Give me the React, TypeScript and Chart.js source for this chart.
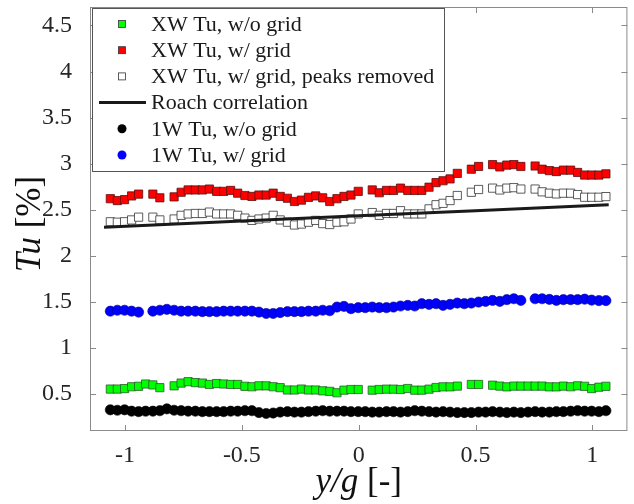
import React, { useEffect, useRef } from "react";
import { Chart, registerables } from "chart.js";

Chart.register(...registerables);

const xPositions = [
  -1.063, -1.033, -1.002, -0.972, -0.942, -0.912, -0.881, -0.851, -0.821, -0.79,
  -0.76, -0.73, -0.699, -0.669, -0.639, -0.608, -0.578, -0.548, -0.518, -0.487,
  -0.457, -0.427, -0.396, -0.366, -0.336, -0.305, -0.275, -0.245, -0.215, -0.184,
  -0.154, -0.124, -0.093, -0.063, -0.033, -0.002, 0.028, 0.058, 0.088, 0.119,
  0.149, 0.179, 0.21, 0.24, 0.27, 0.301, 0.331, 0.361, 0.391, 0.422,
  0.452, 0.482, 0.513, 0.543, 0.573, 0.604, 0.634, 0.664, 0.694, 0.725,
  0.755, 0.785, 0.816, 0.846, 0.876, 0.907, 0.937, 0.967, 0.997, 1.028, 1.058,
];

const xwNoGrid = [
  0.555, 0.555, 0.56, 0.58, 0.585, 0.61, 0.6, 0.57, null, 0.59,
  0.62, 0.635, 0.625, 0.62, 0.605, 0.615, 0.61, 0.605, 0.605, 0.585,
  0.58, 0.59, 0.59, 0.58, 0.57, 0.545, 0.545, 0.555, 0.545, 0.545,
  0.536, 0.53, 0.515, 0.543, 0.55, 0.55, null, 0.543, 0.55, 0.554,
  0.554, 0.55, 0.561, 0.543, 0.543, 0.554, 0.572, 0.579, 0.579, 0.587,
  null, 0.605, 0.605, null, 0.597, 0.587, 0.579, 0.587, 0.587, 0.587,
  0.587, 0.587, 0.579, 0.579, 0.587, 0.58, 0.59, 0.585, 0.56, 0.575, 0.585,
];

const xwGrid = [
  2.62, 2.6, 2.61, 2.65, 2.67, null, 2.67, 2.63, null, 2.64,
  2.69, 2.715, 2.715, 2.715, 2.725, 2.7, 2.7, 2.71, 2.68, 2.655,
  2.645, 2.66, 2.66, 2.68, 2.645, 2.625, 2.59, 2.605, 2.635, 2.65,
  2.63, 2.59, 2.62, 2.645, 2.66, 2.7, null, 2.715, 2.685, 2.71,
  2.71, 2.735, 2.71, 2.71, 2.71, 2.745, 2.795, 2.815, 2.835, 2.895,
  null, 2.94, 2.97, null, 2.99, 2.965, 2.985, 2.99, 2.97, null,
  2.975, 2.94, 2.925, 2.915, 2.93, 2.93, 2.905, 2.877, 2.877, 2.877, 2.89,
];

const xwGridPeaksRemoved = [
  2.37, 2.365, 2.37, 2.39, 2.42, null, 2.42, 2.39, null, 2.4,
  2.44, 2.455, 2.46, 2.46, 2.475, 2.455, 2.455, 2.455, 2.44, 2.41,
  2.385, 2.4, 2.41, 2.44, 2.39, 2.365, 2.335, 2.345, 2.365, 2.385,
  2.35, 2.34, 2.365, 2.37, 2.4, 2.455, null, 2.47, 2.44, 2.46,
  2.46, 2.49, 2.455, 2.455, 2.455, 2.51, 2.555, 2.57, 2.6, 2.655,
  null, 2.69, 2.72, null, 2.735, 2.715, 2.735, 2.74, 2.725, null,
  2.725, 2.695, 2.68, 2.672, 2.68, 2.68, 2.665, 2.636, 2.636, 2.636, 2.643,
];

const roachX = [-1.09, -0.5, 0, 0.5, 1.07];
const roachY = [2.31, 2.377, 2.434, 2.49, 2.555];

const oneWNoGrid = [
  0.33, 0.325, 0.33, 0.315, 0.31, 0.315, 0.315, 0.32, 0.34, 0.325,
  0.32, 0.315, 0.315, 0.31, 0.31, 0.31, 0.31, 0.315, 0.315, 0.32,
  0.32, 0.3, 0.29, 0.295, 0.305, 0.31, 0.305, 0.305, 0.31, 0.315,
  0.32, 0.315, 0.315, 0.315, 0.31, 0.31, 0.31, 0.305, 0.305, 0.31,
  0.31, 0.305, 0.31, 0.32, 0.315, 0.31, 0.305, 0.31, 0.305, 0.3,
  0.3, 0.3, 0.305, 0.305, 0.31, 0.305, 0.3, 0.305, 0.3, 0.305,
  0.31, 0.305, 0.305, 0.31, 0.31, 0.315, 0.32, 0.315, 0.315, 0.31, 0.32,
];

const oneWGrid = [
  1.4, 1.41, 1.41, 1.4, 1.39, null, 1.4, 1.41, 1.42, 1.41,
  1.4, 1.4, 1.4, 1.395, 1.395, 1.395, 1.4, 1.4, 1.4, 1.4,
  1.4, 1.39, 1.375, 1.375, 1.385, 1.395, 1.395, 1.395, 1.4, 1.4,
  1.41, 1.405, 1.445, 1.452, 1.427, 1.438, 1.438, 1.445, 1.438, 1.438,
  1.445, 1.456, 1.463, 1.456, 1.481, 1.474, 1.481, 1.463, 1.474, 1.488,
  1.481, 1.488, 1.499, 1.506, 1.517, 1.506, 1.525, 1.535, 1.517, null,
  1.535, 1.535, 1.528, 1.517, 1.525, 1.525, 1.525, 1.53, 1.52, 1.515, 1.515,
];

const xTicks = [-1, -0.5, 0, 0.5, 1];
const yTicks = [0.5, 1, 1.5, 2, 2.5, 3, 3.5, 4, 4.5];

const legendLabels = [
  "XW Tu, w/o grid",
  "XW Tu, w/ grid",
  "XW Tu, w/ grid, peaks removed",
  "Roach correlation",
  "1W Tu, w/o grid",
  "1W Tu, w/ grid",
];

const SERIF = "'Liberation Serif', 'Times New Roman', serif";

function toPoints(xs: number[], ys: (number | null)[]) {
  const out: { x: number; y: number }[] = [];
  for (let i = 0; i < xs.length; i++) {
    const v = ys[i];
    if (v !== null && v !== undefined) out.push({ x: xs[i], y: v });
  }
  return out;
}

const framePlugin = {
  id: "frameAndLegend",
  afterDraw(chart: any) {
    const { ctx, chartArea: a, scales } = chart;
    ctx.save();
    // axes box
    ctx.strokeStyle = "#8a8a8a";
    ctx.lineWidth = 1;
    ctx.strokeRect(a.left + 0.5, a.top + 0.5, a.right - a.left - 1, a.bottom - a.top - 1);
    // inward ticks on all sides
    const tl = 6;
    ctx.beginPath();
    xTicks.forEach((v) => {
      const px = Math.round(scales.x.getPixelForValue(v)) + 0.5;
      ctx.moveTo(px, a.bottom);
      ctx.lineTo(px, a.bottom - tl);
      ctx.moveTo(px, a.top);
      ctx.lineTo(px, a.top + tl);
    });
    yTicks.forEach((v) => {
      const py = Math.round(scales.y.getPixelForValue(v)) + 0.5;
      ctx.moveTo(a.left, py);
      ctx.lineTo(a.left + tl, py);
      ctx.moveTo(a.right, py);
      ctx.lineTo(a.right - tl, py);
    });
    ctx.stroke();

    // legend
    const lx = a.left + 2;
    const ly = a.top + 1;
    const lw = 352;
    const lh = 163;
    ctx.fillStyle = "#ffffff";
    ctx.fillRect(lx, ly, lw, lh);
    ctx.strokeStyle = "#555555";
    ctx.lineWidth = 1;
    ctx.strokeRect(lx + 0.5, ly + 0.5, lw, lh);
    const rowY0 = ly + 16;
    const rowStep = 26.2;
    const mx = lx + 30;
    ctx.font = `22px ${SERIF}`;
    ctx.textBaseline = "middle";
    ctx.textAlign = "left";
    legendLabels.forEach((label, k) => {
      const cy = rowY0 + k * rowStep;
      if (k <= 2) {
        const fill = k === 0 ? "#00ff00" : k === 1 ? "#ff0000" : "#ffffff";
        const s = 7;
        ctx.fillStyle = fill;
        ctx.fillRect(mx - s / 2, cy - s / 2, s, s);
        ctx.strokeStyle = "#333333";
        ctx.lineWidth = 0.8;
        ctx.strokeRect(mx - s / 2, cy - s / 2, s, s);
      } else if (k === 3) {
        ctx.strokeStyle = "#1a1a1a";
        ctx.lineWidth = 3;
        ctx.beginPath();
        ctx.moveTo(lx + 7, cy);
        ctx.lineTo(lx + 54, cy);
        ctx.stroke();
      } else {
        ctx.fillStyle = k === 4 ? "#000000" : "#0000ff";
        ctx.beginPath();
        ctx.arc(mx, cy, 4.5, 0, Math.PI * 2);
        ctx.fill();
      }
      ctx.fillStyle = "#1a1a1a";
      ctx.fillText(label, lx + 59, cy + 1);
    });

    // axis titles
    ctx.fillStyle = "#111111";
    ctx.textBaseline = "alphabetic";
    const xa = `italic 35px ${SERIF}`;
    const xb = `35px ${SERIF}`;
    ctx.font = xa;
    const w1 = ctx.measureText("y/g").width;
    ctx.font = xb;
    const w2 = ctx.measureText(" [-]").width;
    const cx = (a.left + a.right) / 2;
    let sx = cx - (w1 + w2) / 2;
    ctx.font = xa;
    ctx.fillText("y/g", sx, 492);
    ctx.font = xb;
    ctx.fillText(" [-]", sx + w1, 492);

    ctx.save();
    ctx.translate(40, 224);
    ctx.rotate(-Math.PI / 2);
    ctx.font = xa;
    const w3 = ctx.measureText("Tu").width;
    ctx.font = xb;
    const w4 = ctx.measureText(" [%]").width;
    sx = -(w3 + w4) / 2;
    ctx.font = xa;
    ctx.fillText("Tu", sx, 0);
    ctx.font = xb;
    ctx.fillText(" [%]", sx + w3, 0);
    ctx.restore();

    ctx.restore();
  },
};

export default function App() {
  const canvasRef = useRef<HTMLCanvasElement | null>(null);

  useEffect(() => {
    if (!canvasRef.current) return;
    const squareCommon = {
      type: "scatter" as const,
      showLine: false,
      pointStyle: "rect",
      pointRadius: 5.8,
      borderWidth: 0.8,
    };
    const circleCommon = {
      type: "scatter" as const,
      showLine: false,
      pointStyle: "circle",
      pointRadius: 5.1,
      borderWidth: 0.6,
    };
    const chart = new Chart(canvasRef.current, {
      type: "scatter",
      data: {
        datasets: [
          {
            ...squareCommon,
            label: legendLabels[0],
            data: toPoints(xPositions, xwNoGrid),
            backgroundColor: "#00ff00",
            borderColor: "#2a5a2a",
            pointBackgroundColor: "#00ff00",
            pointBorderColor: "#2a5a2a",
            order: 6,
          },
          {
            ...squareCommon,
            label: legendLabels[1],
            data: toPoints(xPositions, xwGrid),
            backgroundColor: "#ff0000",
            borderColor: "#5a1010",
            pointBackgroundColor: "#ff0000",
            pointBorderColor: "#5a1010",
            order: 5,
          },
          {
            ...squareCommon,
            label: legendLabels[2],
            data: toPoints(xPositions, xwGridPeaksRemoved),
            backgroundColor: "#ffffff",
            borderColor: "#333333",
            pointBackgroundColor: "#ffffff",
            pointBorderColor: "#333333",
            order: 4,
          },
          {
            type: "scatter" as const,
            label: legendLabels[3],
            data: toPoints(roachX, roachY),
            showLine: true,
            borderColor: "#1a1a1a",
            borderWidth: 3,
            pointRadius: 0,
            tension: 0,
            order: 3,
          },
          {
            ...circleCommon,
            label: legendLabels[4],
            data: toPoints(xPositions, oneWNoGrid),
            backgroundColor: "#000000",
            borderColor: "#000000",
            pointBackgroundColor: "#000000",
            pointBorderColor: "#000000",
            order: 2,
          },
          {
            ...circleCommon,
            label: legendLabels[5],
            data: toPoints(xPositions, oneWGrid),
            backgroundColor: "#0000ff",
            borderColor: "#00008a",
            pointBackgroundColor: "#0000ff",
            pointBorderColor: "#00008a",
            order: 1,
          },
        ] as any,
      },
      options: {
        animation: false,
        responsive: false,
        devicePixelRatio: 1,
        layout: { padding: { left: 0, right: 6, top: 7, bottom: 0 } },
        plugins: {
          legend: { display: false },
          tooltip: { enabled: false },
        },
        scales: {
          x: {
            type: "linear",
            min: -1.15,
            max: 1.15,
            grid: { display: false },
            border: { display: false },
            ticks: {
              font: { family: SERIF, size: 24 },
              color: "#262626",
              padding: 2,
              callback: (v: any) => String(v),
            },
            afterBuildTicks: (s: any) => {
              s.ticks = xTicks.map((v) => ({ value: v }));
            },
            afterFit: (s: any) => {
              s.height = 73;
              s.paddingLeft = 0;
              s.paddingRight = 0;
            },
          },
          y: {
            type: "linear",
            min: 0.1,
            max: 4.7,
            grid: { display: false },
            border: { display: false },
            ticks: {
              font: { family: SERIF, size: 24 },
              color: "#262626",
              padding: 10,
              callback: (v: any) => String(v),
            },
            afterBuildTicks: (s: any) => {
              s.ticks = yTicks.map((v) => ({ value: v }));
            },
            afterFit: (s: any) => {
              s.width = 90;
              s.paddingTop = 0;
              s.paddingBottom = 0;
            },
          },
        },
      } as any,
      plugins: [framePlugin],
    });
    return () => chart.destroy();
  }, []);

  return (
    <div style={{ position: "absolute", left: 0, top: 0, width: 634, height: 504, background: "#ffffff" }}>
      <canvas ref={canvasRef} width={634} height={504} style={{ display: "block" }} />
    </div>
  );
}
